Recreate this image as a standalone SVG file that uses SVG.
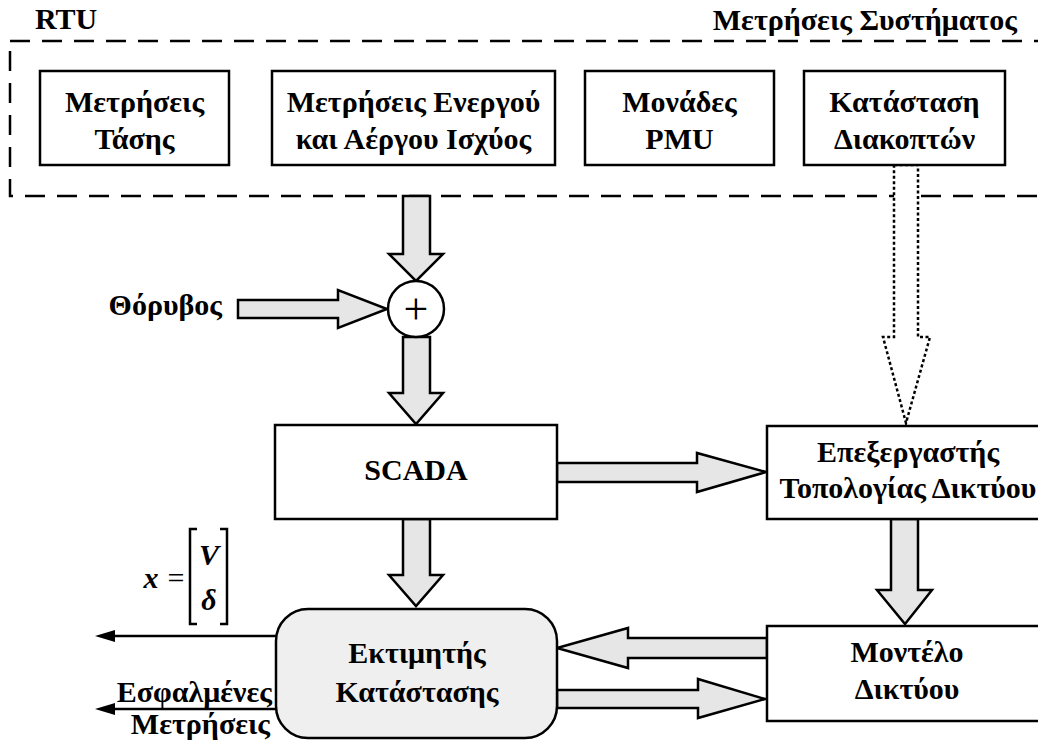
<svg xmlns="http://www.w3.org/2000/svg" width="1038" height="744" viewBox="0 0 1038 744">
  <style>
    .t{font-family:"Liberation Serif","Times New Roman",serif;font-weight:bold;font-size:30px;fill:#000;text-anchor:middle}
    .box{fill:#fff;stroke:#000;stroke-width:2.5}
    .arr{fill:#e6e6e6;stroke:#000;stroke-width:2.5;stroke-linejoin:miter}
    .dot{fill:#fff;stroke:#000;stroke-width:2.5;stroke-dasharray:3 2.5}
    .out{fill:none;stroke:#000;stroke-width:2.5}
    .m{font-family:"Liberation Serif","Times New Roman",serif;font-size:30px;fill:#000;text-anchor:middle}
  </style>
  <defs>
    <marker id="head" viewBox="0 0 20 12" refX="0" refY="6" markerWidth="20" markerHeight="12" markerUnits="userSpaceOnUse" orient="auto">
      <path d="M0,0 L20,6 L0,12 Z" fill="#000"/>
    </marker>
  </defs>

  <!-- measurement frame (RTU) -->
  <g id="rtu-frame">
    <rect x="10" y="41" width="1060" height="155" fill="none" stroke="#000" stroke-width="2.5" stroke-dasharray="20 12"/>
    <text class="t" x="35" y="29" style="text-anchor:start">RTU</text>
    <text class="t" x="1017" y="30" style="text-anchor:end">Μετρήσεις Συστήματος</text>
  </g>

  <!-- connectors -->
  <g id="connectors">
    <polygon class="arr" points="403,196 430,196 430,254 443,254 416,281 389,254 403,254"/>
    <polygon class="arr" points="403,337 430,337 430,393 443,393 416,424 389,393 403,393"/>
    <polygon class="arr" points="238,300 338,300 338,290 387,309 338,328 338,318 238,318"/>
    <polygon class="arr" points="557,463 697,463 697,453 766,472 697,492 697,482 557,482"/>
    <polygon class="dot" points="894,165 918,165 918,337 930,337 906,423 883,337 894,337"/>
    <polygon class="arr" points="891,519 918,519 918,590 932,590 905,624 877,590 891,590"/>
    <polygon class="arr" points="403,519 430,519 430,575 443,575 416,606 389,575 403,575"/>
    <polygon class="arr" points="767,638 628,638 628,628 557,648 628,668 628,658 767,658"/>
    <polygon class="arr" points="557,690 698,690 698,679 765,699 698,718 698,708 557,708"/>
    <line class="out" x1="276" y1="636" x2="115" y2="636" marker-end="url(#head)"/>
    <line class="out" x1="276" y1="709" x2="115" y2="709" marker-end="url(#head)"/>
  </g>

  <g id="voltage">
    <rect class="box" x="40" y="71" width="189" height="94"/>
    <text class="t" x="134.5" y="112">Μετρήσεις</text>
    <text class="t" x="134.5" y="149">Τάσης</text>
  </g>
  <g id="power">
    <rect class="box" x="272" y="71" width="283" height="94"/>
    <text class="t" x="413.5" y="112">Μετρήσεις Ενεργού</text>
    <text class="t" x="413.5" y="149">και Αέργου Ισχύος</text>
  </g>
  <g id="pmu">
    <rect class="box" x="585" y="71" width="189" height="94"/>
    <text class="t" x="679.5" y="112">Μονάδες</text>
    <text class="t" x="679.5" y="149">PMU</text>
  </g>
  <g id="breakers">
    <rect class="box" x="804" y="71" width="201" height="94"/>
    <text class="t" x="904.5" y="112">Κατάσταση</text>
    <text class="t" x="904.5" y="149">Διακοπτών</text>
  </g>

  <g id="noise">
    <text class="t" x="222" y="315" style="text-anchor:end">Θόρυβος</text>
  </g>

  <g id="sum">
    <circle cx="416" cy="309" r="28" fill="#fff" stroke="#000" stroke-width="2.5"/>
    <text class="m" x="416" y="324" style="font-size:44px">+</text>
  </g>

  <g id="scada">
    <rect class="box" x="275" y="425" width="282" height="94"/>
    <text class="t" x="416" y="480">SCADA</text>
  </g>

  <g id="topology">
    <rect class="box" x="767" y="426" width="300" height="93"/>
    <text class="t" x="908" y="462">Επεξεργαστής</text>
    <text class="t" x="908" y="498">Τοπολογίας Δικτύου</text>
  </g>

  <g id="model">
    <rect class="box" x="767" y="626" width="300" height="95"/>
    <text class="t" x="907" y="662">Μοντέλο</text>
    <text class="t" x="907" y="699">Δικτύου</text>
  </g>

  <g id="estimator">
    <rect x="276" y="609" width="281" height="129" rx="32" ry="32" fill="#efefef" stroke="#000" stroke-width="2.5"/>
    <text class="t" x="417" y="663">Εκτιμητής</text>
    <text class="t" x="417" y="702">Κατάστασης</text>
  </g>

  <g id="state-vector">
    <text class="t" x="151" y="588" style="font-style:italic">x</text>
    <text class="m" x="176" y="588">=</text>
    <path class="out" d="M197,529 H190 V624 H197 M220,529 H227 V624 H220" stroke-width="2"/>
    <text class="t" x="209" y="565" style="font-style:italic">V</text>
    <text class="t" x="209" y="610" style="font-style:italic">δ</text>
  </g>

  <g id="bad-data">
    <text class="t" x="272" y="702" style="text-anchor:end">Εσφαλμένες</text>
    <text class="t" x="270" y="734" style="text-anchor:end">Μετρήσεις</text>
  </g>
</svg>
